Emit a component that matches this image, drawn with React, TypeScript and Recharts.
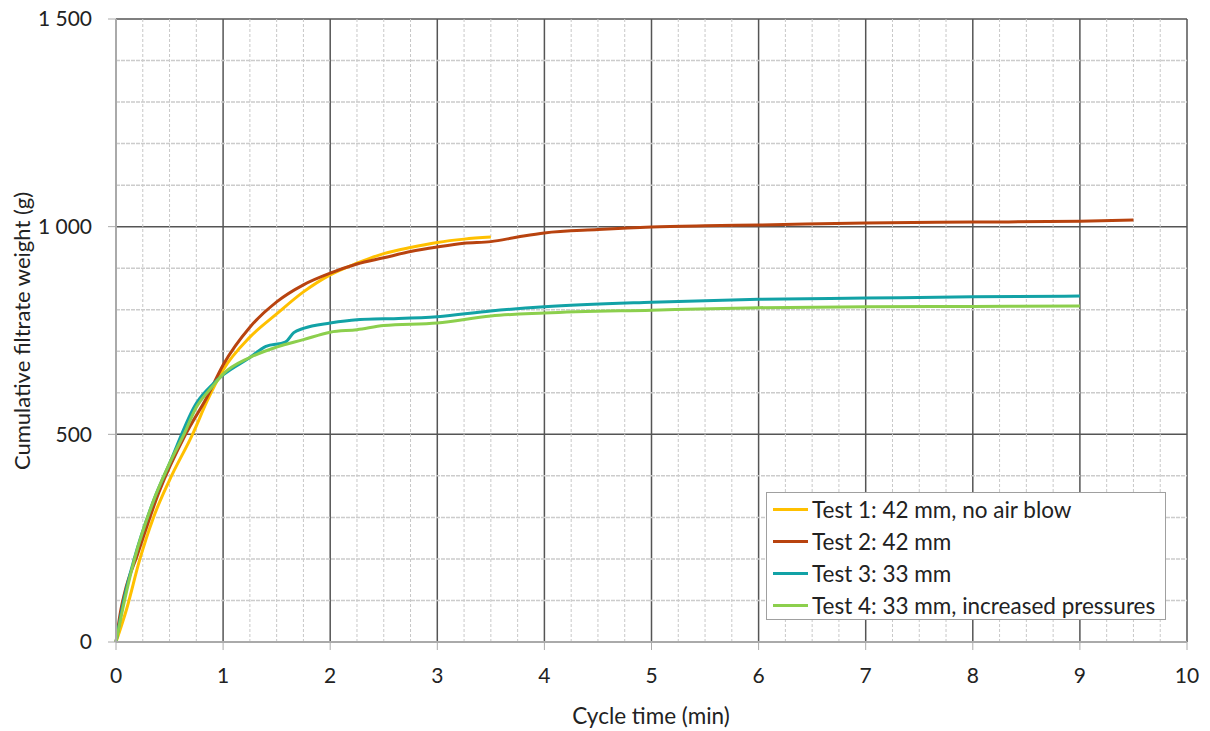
import React from "react";
import {
  LineChart,
  Line,
  XAxis,
  YAxis,
  CartesianGrid,
  Legend,
  Label,
  ReferenceLine,
} from "recharts";

// cycle time (min) / cumulative filtrate weight (g)
const test1X = [0, 0.1, 0.22, 0.35, 0.5, 0.72, 0.85, 1.0, 1.25, 1.5, 1.75, 2.0, 2.25, 2.5, 2.75, 3.0, 3.25, 3.5];
const test1Y = [0, 80, 197, 300, 390, 503, 580, 655, 734, 790, 843, 884, 912, 935, 950, 962, 970, 975];

const test2X = [0, 0.04, 0.08, 0.2, 0.4, 0.65, 0.85, 1.0, 1.25, 1.5, 1.75, 2.0, 2.25, 2.5, 2.75, 3.0, 3.25, 3.5, 3.75, 4.0, 4.5, 5, 5.5, 6, 7, 8, 9, 9.5];
const test2Y = [0, 70, 118, 210, 360, 500, 590, 667, 758, 819, 860, 888, 910, 925, 940, 951, 960, 964, 975, 985, 993, 999, 1002, 1004, 1009, 1011, 1013, 1016];

const test3X = [0, 0.08, 0.17, 0.35, 0.5, 0.75, 0.9, 1.0, 1.25, 1.4, 1.58, 1.66, 1.75, 2.0, 2.25, 2.5, 3.0, 3.5, 4.0, 5, 6, 7, 8, 9];
const test3Y = [0, 110, 200, 340, 430, 575, 620, 643, 685, 712, 722, 745, 755, 768, 776, 778, 783, 797, 807, 818, 825, 828, 831, 833];

const test4X = [0, 0.08, 0.17, 0.35, 0.5, 0.64, 0.75, 0.9, 1.0, 1.25, 1.5, 1.75, 2.0, 2.25, 2.5, 3.0, 3.5, 4.0, 5, 6, 7, 8, 9];
const test4Y = [0, 100, 197, 340, 430, 503, 565, 615, 645, 685, 710, 728, 746, 752, 762, 768, 785, 792, 799, 805, 807, 808, 809];

const xTicks = [0, 1, 2, 3, 4, 5, 6, 7, 8, 9, 10];
const yTicks = [0, 500, 1000, 1500];
const xMinor = Array.from({ length: 40 }, (_, i) => i * 0.25).filter((v) => v % 1 !== 0);
const yMinor = Array.from({ length: 15 }, (_, i) => i * 100).filter((v) => v % 500 !== 0);

const toPoints = (xs: number[], ys: number[]) => xs.map((x, i) => ({ x, y: ys[i] }));

const series = [
  { name: "Test 1: 42 mm, no air blow", color: "#FFC000", data: toPoints(test1X, test1Y) },
  { name: "Test 2: 42 mm", color: "#B8430F", data: toPoints(test2X, test2Y) },
  { name: "Test 3: 33 mm", color: "#12A2A6", data: toPoints(test3X, test3Y) },
  { name: "Test 4: 33 mm, increased pressures", color: "#8CCF4D", data: toPoints(test4X, test4Y) },
];

const font = "Lato, 'Open Sans', sans-serif";
const fmt = (v: number) => (v >= 1000 ? `${Math.floor(v / 1000)} ${String(v % 1000).padStart(3, "0")}` : String(v));

function LegendBox() {
  return (
    <div
      style={{
        width: 400,
        height: 128,
        background: "#fff",
        border: "1px solid #a0a0a0",
        boxSizing: "border-box",
        paddingTop: 0,
        fontFamily: font,
        fontSize: 22.5,
        color: "#222",
      }}
    >
      {series.map((s) => (
        <div key={s.name} style={{ display: "flex", alignItems: "center", height: 32 }}>
          <div style={{ width: 35, height: 3, background: s.color, marginLeft: 6, marginRight: 4 }} />
          <span style={{ whiteSpace: "nowrap" }}>{s.name}</span>
        </div>
      ))}
    </div>
  );
}

export default function App() {
  return (
    <div style={{ position: "absolute", left: 0, top: 0, background: "#fff" }}>
      <LineChart width={1210} height={731} margin={{ top: 19, right: 23, left: 0, bottom: 0 }}>
        {xMinor.map((v) => (
          <ReferenceLine key={`vx${v}`} x={v} stroke="#c8c8c8" strokeDasharray="3 2" strokeWidth={1} />
        ))}
        {yMinor.map((v) => (
          <ReferenceLine key={`hy${v}`} y={v} stroke="#cccccc" strokeDasharray="4 1" strokeWidth={1.5} />
        ))}
        <CartesianGrid stroke="#555" strokeWidth={1.5} />
        <XAxis
          type="number"
          dataKey="x"
          domain={[0, 10]}
          ticks={xTicks}
          interval={0}
          height={89}
          tickSize={8}
          tickMargin={18}
          axisLine={{ stroke: "#aaa", strokeWidth: 2 }}
          tickLine={{ stroke: "#aaa" }}
          tick={{ fill: "#222", fontSize: 21, fontFamily: font }}
        >
          <Label
            content={() => (
              <text x={651} y={724} textAnchor="middle" fill="#222" fontSize={22.5} fontFamily={font}>
                Cycle time (min)
              </text>
            )}
          />
        </XAxis>
        <YAxis
          type="number"
          domain={[0, 1500]}
          ticks={yTicks}
          interval={0}
          width={116}
          tickSize={8}
          tickMargin={16}
          tickFormatter={fmt}
          axisLine={{ stroke: "#aaa", strokeWidth: 2 }}
          tickLine={{ stroke: "#aaa" }}
          tick={{ fill: "#222", fontSize: 21, fontFamily: font }}
        >
          <Label
            content={() => (
              <text
                x={30}
                y={331}
                transform="rotate(-90 30 331)"
                textAnchor="middle"
                fill="#222"
                fontSize={22}
                fontFamily={font}
              >
                Cumulative filtrate weight (g)
              </text>
            )}
          />
        </YAxis>
        {series.map((s) => (
          <Line
            key={s.name}
            data={s.data}
            dataKey="y"
            name={s.name}
            type="monotone"
            stroke={s.color}
            strokeWidth={3}
            dot={false}
            activeDot={false}
            isAnimationActive={false}
          />
        ))}
        <Legend
          layout="horizontal"
          verticalAlign="middle"
          align="center"
          wrapperStyle={{ position: "absolute", left: 766, top: 492, width: 400, height: 128 }}
          content={() => <LegendBox />}
        />
      </LineChart>
    </div>
  );
}
